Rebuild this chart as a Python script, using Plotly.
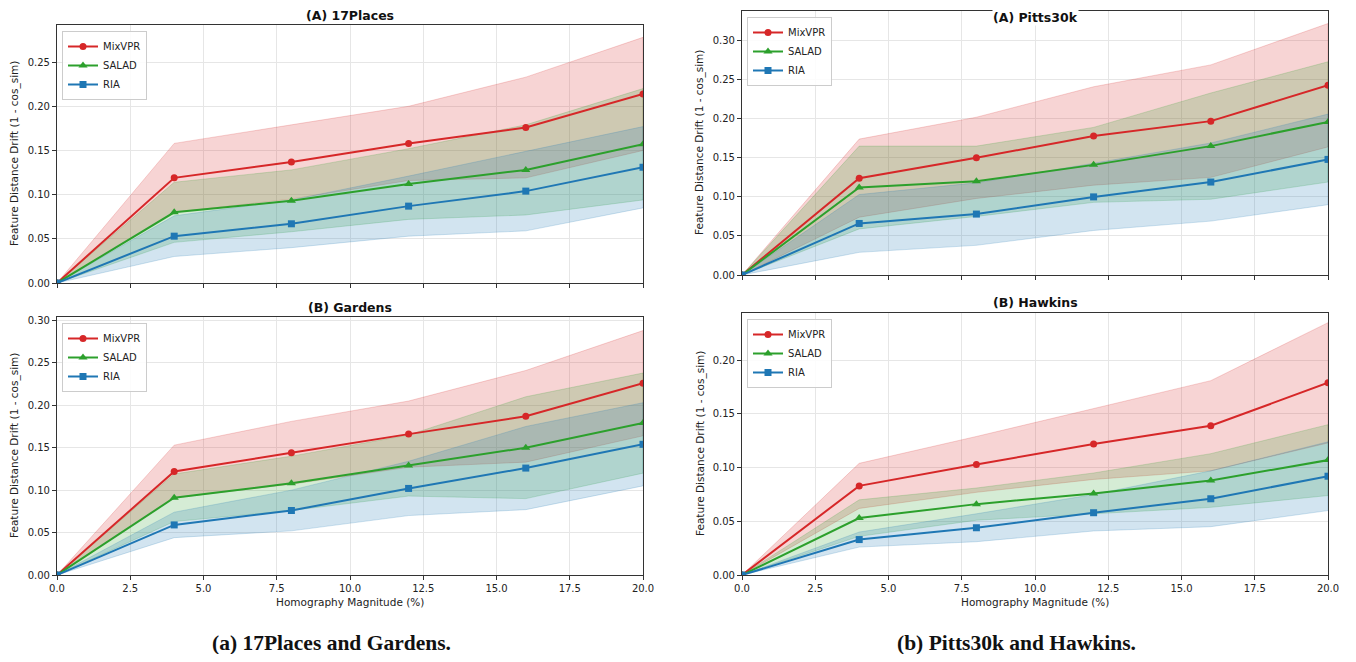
import plotly.graph_objects as go

# ---------------- data ----------------
x_mag = [0, 4, 8, 12, 16, 20]
methods = ["MixVPR", "SALAD", "RIA"]
tick_x = [0, 2.5, 5, 7.5, 10, 12.5, 15, 17.5, 20]

places_mean = {
    "MixVPR": [0, 0.119, 0.137, 0.158, 0.176, 0.214],
    "SALAD": [0, 0.080, 0.093, 0.112, 0.128, 0.157],
    "RIA": [0, 0.053, 0.067, 0.087, 0.104, 0.131],
}
places_std = {
    "MixVPR": [0, 0.039, 0.042, 0.042, 0.057, 0.064],
    "SALAD": [0, 0.034, 0.035, 0.040, 0.051, 0.063],
    "RIA": [0, 0.023, 0.027, 0.034, 0.045, 0.046],
}
gardens_mean = {
    "MixVPR": [0, 0.122, 0.144, 0.166, 0.187, 0.226],
    "SALAD": [0, 0.091, 0.108, 0.129, 0.150, 0.179],
    "RIA": [0, 0.059, 0.076, 0.102, 0.126, 0.154],
}
gardens_std = {
    "MixVPR": [0, 0.031, 0.037, 0.039, 0.054, 0.062],
    "SALAD": [0, 0.028, 0.032, 0.036, 0.060, 0.059],
    "RIA": [0, 0.015, 0.024, 0.032, 0.049, 0.049],
}
pitts_mean = {
    "MixVPR": [0, 0.124, 0.150, 0.178, 0.197, 0.243],
    "SALAD": [0, 0.112, 0.120, 0.141, 0.165, 0.196],
    "RIA": [0, 0.066, 0.078, 0.100, 0.119, 0.148],
}
pitts_std = {
    "MixVPR": [0, 0.050, 0.052, 0.063, 0.072, 0.079],
    "SALAD": [0, 0.053, 0.045, 0.048, 0.068, 0.077],
    "RIA": [0, 0.037, 0.040, 0.043, 0.050, 0.058],
}
hawkins_mean = {
    "MixVPR": [0, 0.083, 0.103, 0.122, 0.139, 0.179],
    "SALAD": [0, 0.053, 0.066, 0.076, 0.088, 0.107],
    "RIA": [0, 0.033, 0.044, 0.058, 0.071, 0.092],
}
hawkins_std = {
    "MixVPR": [0, 0.021, 0.026, 0.033, 0.042, 0.056],
    "SALAD": [0, 0.017, 0.015, 0.019, 0.025, 0.033],
    "RIA": [0, 0.007, 0.013, 0.017, 0.026, 0.032],
}

panel_titles = ["(A) 17Places", "(B) Gardens", "(A) Pitts30k", "(B) Hawkins"]
captions = ["(a) 17Places and Gardens.", "(b) Pitts30k and Hawkins."]
x_title = "Homography Magnitude (%)"
y_title = "Feature Distance Drift (1 - cos_sim)"

# ---------------- style ----------------
colors = {"MixVPR": "#d62728", "SALAD": "#2ca02c", "RIA": "#1f77b4"}
fills = {"MixVPR": "rgba(214,39,40,0.2)", "SALAD": "rgba(44,160,44,0.2)",
         "RIA": "rgba(31,119,180,0.2)"}
edges = {"MixVPR": "rgba(214,39,40,0.25)", "SALAD": "rgba(44,160,44,0.25)",
         "RIA": "rgba(31,119,180,0.25)"}
symbols = {"MixVPR": "circle", "SALAD": "triangle-up", "RIA": "square"}
msizes = {"MixVPR": 7, "SALAD": 8, "RIA": 7}

# page body has an 8px margin; figure sized so the page fits the window exactly
OFF = 8
W, H = 1356 - 2 * OFF, 662 - 2 * OFF
def px(v):
    return (v - OFF) / W
def py(v):
    return 1 - (v - OFF) / H

# panels: (mean, std, xaxis, yaxis, x-domain screen px, y-domain screen px (top,bottom), y max, legend, show x labels)
panels = [
    (places_mean, places_std, "x", "y", (57, 643), (25, 283), 0.292, "legend", False),
    (gardens_mean, gardens_std, "x2", "y2", (57, 643), (317, 575), 0.304, "legend2", True),
    (pitts_mean, pitts_std, "x3", "y3", (742, 1328), (11, 275), 0.338, "legend3", False),
    (hawkins_mean, hawkins_std, "x4", "y4", (742, 1328), (313, 575), 0.244, "legend4", True),
]

fig = go.Figure()
layout = dict(
    width=W, height=H, autosize=False,
    margin=dict(l=0, r=0, t=0, b=0),
    paper_bgcolor="white", plot_bgcolor="white",
    font=dict(family="DejaVu Sans", size=10, color="#222"),
    showlegend=True,
)
annotations = []

for i, (mean, std, xa, ya, xd, yd, ymax, leg, showx) in enumerate(panels):
    for m in methods:
        upper = [a + b for a, b in zip(mean[m], std[m])]
        lower = [a - b for a, b in zip(mean[m], std[m])]
        fig.add_trace(go.Scatter(
            x=x_mag + x_mag[::-1], y=upper + lower[::-1],
            fill="toself", fillcolor=fills[m],
            line=dict(color=edges[m], width=0.8),
            mode="lines", showlegend=False, hoverinfo="skip",
            xaxis=xa, yaxis=ya,
        ))
    for m in methods:
        fig.add_trace(go.Scatter(
            x=x_mag, y=mean[m], name=m, mode="lines+markers",
            line=dict(color=colors[m], width=2),
            marker=dict(symbol=symbols[m], size=msizes[m], color=colors[m]),
            xaxis=xa, yaxis=ya, legend=leg,
        ))
    xkey = "xaxis" + ("" if i == 0 else str(i + 1))
    ykey = "yaxis" + ("" if i == 0 else str(i + 1))
    layout[xkey] = dict(
        domain=[px(xd[0]), px(xd[1])], anchor=ya, range=[0, 20],
        tickvals=tick_x, tickformat=".1f", showticklabels=showx,
        ticks="outside", ticklen=4, tickwidth=1, tickcolor="#333",
        showgrid=True, gridcolor="#e6e6e6", gridwidth=1, zeroline=False,
        showline=True, linecolor="#333", linewidth=1.2, mirror=True,
        tickfont=dict(size=10, family="DejaVu Sans", color="#222"),
        automargin=False,
    )
    layout[ykey] = dict(
        domain=[py(yd[1]), py(yd[0])], anchor=xa, range=[0, ymax],
        dtick=0.05, tick0=0, tickformat=".2f",
        ticks="outside", ticklen=4, tickwidth=1, tickcolor="#333",
        showgrid=True, gridcolor="#e6e6e6", gridwidth=1, zeroline=False,
        showline=True, linecolor="#333", linewidth=1.2, mirror=True,
        tickfont=dict(size=10, family="DejaVu Sans", color="#222"),
        automargin=False,
    )
    layout[leg] = dict(
        x=px(xd[0] + 5), y=py(yd[0] + 6), xanchor="left", yanchor="top",
        bgcolor="rgba(255,255,255,0.85)", bordercolor="#cccccc", borderwidth=1,
        font=dict(size=10, family="DejaVu Sans", color="#222"),
        itemwidth=30, tracegroupgap=0,
    )
    cx = (xd[0] + xd[1]) / 2
    top_title = yd[0] - 10 >= 14
    annotations.append(dict(
        text="<b>" + panel_titles[i] + "</b>", x=px(cx),
        y=py(yd[0] - 10 if top_title else 17),
        xref="paper", yref="paper", xanchor="center", yanchor="middle",
        showarrow=False, font=dict(size=12.5, family="DejaVu Sans", color="#111"),
        bgcolor=None if top_title else "white", borderpad=0,
    ))
    annotations.append(dict(
        text=y_title, x=px(xd[0] - 42), y=py((yd[0] + yd[1]) / 2),
        xref="paper", yref="paper", xanchor="center", yanchor="middle",
        textangle=-90, showarrow=False,
        font=dict(size=10.5, family="DejaVu Sans", color="#222"),
    ))
    if showx:
        annotations.append(dict(
            text=x_title, x=px(cx), y=py(602),
            xref="paper", yref="paper", xanchor="center", yanchor="middle",
            showarrow=False, font=dict(size=10.5, family="DejaVu Sans", color="#222"),
        ))
        annotations.append(dict(
            text="<b>" + captions[0 if i == 1 else 1] + "</b>", x=px(cx - 19), y=py(643),
            xref="paper", yref="paper", xanchor="center", yanchor="middle",
            showarrow=False, font=dict(size=21.5, family="Liberation Serif", color="#111"),
        ))

layout["annotations"] = annotations
fig.update_layout(**layout)
fig.write_html("out.html")
